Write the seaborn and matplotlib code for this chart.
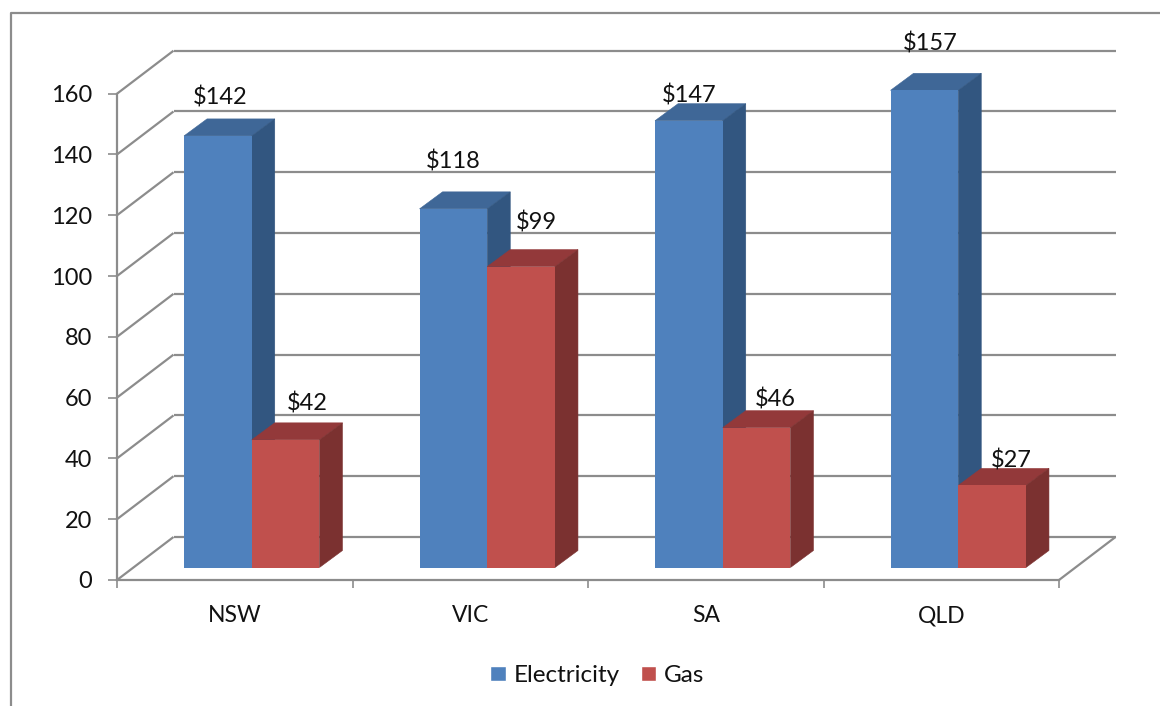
import matplotlib
matplotlib.use('Agg')
import matplotlib.pyplot as plt
import pandas as pd
import seaborn as sns
from matplotlib.lines import Line2D
from matplotlib.patches import Polygon

# Values
states = ['NSW', 'VIC', 'SA', 'QLD']
electricity = [142, 118, 147, 157]
gas = [42, 99, 46, 27]
y_ticks = [0, 20, 40, 60, 80, 100, 120, 140, 160]

# Label nudges from the bar's top centre, in pixels (hand placed in the original)
elec_label_nudge = [(2, 38), (0, 47), (0, 25), (6, 47)]
gas_label_nudge = [(22, 36), (15, 44), (19, 28), (19, 25)]

sns.set_theme(style='white')
plt.rcParams['font.family'] = ['Lato', 'DejaVu Sans']
text_color = '#111111'
line_color = '#8c8c8c'

W, H = 1160, 706
fig = plt.figure(figsize=(W / 100, H / 100), dpi=100)
ax = fig.add_axes([117 / W, 1 - 580 / H, 942 / W, 486.3 / H])

df = pd.DataFrame({
    'state': states * 2,
    'cost': electricity + gas,
    'fuel': ['Electricity'] * 4 + ['Gas'] * 4,
})
sns.barplot(data=df, x='state', y='cost', hue='fuel', order=states,
            palette={'Electricity': '#4f81bd', 'Gas': '#c0504d'},
            width=0.575, saturation=1, ax=ax)

ax.set_xlim(-0.5, 3.5)
ax.set_ylim(0, 160)
ax.set_xlabel('')
ax.set_ylabel('')

# pixel sizes of the fake 3D, converted to data units
px_x = 4 / 942
px_y = 160 / 486.3
wall_dx, wall_dy = 56.5 * px_x, 43 * px_y
bar_dx, bar_dy = 17 * px_x, 12.5 * px_y
depth_dx, depth_dy = 23 * px_x, 17 * px_y


def wall_line(xs, ys, z=1):
    ax.add_line(Line2D(xs, ys, color=line_color, lw=1.6, zorder=z, clip_on=False,
                       solid_capstyle='butt'))


# back wall and side wall
for v in y_ticks:
    wall_line([-0.5, -0.5 + wall_dx], [v, v + wall_dy])
    wall_line([-0.5 + wall_dx, 3.5 + wall_dx], [v + wall_dy, v + wall_dy])
wall_line([3.5, 3.5 + wall_dx], [0, wall_dy])

# top and side faces for each bar
shades = [('#3f6797', '#325680'), ('#93393a', '#7b3130')]
nudges = [elec_label_nudge, gas_label_nudge]
z = 3
for i in range(len(states)):
    for container, (top_col, side_col), nudge in zip(ax.containers, shades, nudges):
        bar = container[i]
        x0 = bar.get_x() + bar_dx
        x1 = x0 + bar.get_width()
        base = bar_dy
        h = bar.get_height() + bar_dy
        bar.set_x(x0)
        bar.set_y(base)
        bar.set_zorder(z + 0.5)
        bar.set_linewidth(0)
        bar.set_clip_on(False)
        ax.add_patch(Polygon([(x0, h), (x1, h), (x1 + depth_dx, h + depth_dy),
                              (x0 + depth_dx, h + depth_dy)],
                             closed=True, fc=top_col, ec=top_col, lw=0.4, zorder=z, clip_on=False))
        ax.add_patch(Polygon([(x1, base), (x1 + depth_dx, base + depth_dy),
                              (x1 + depth_dx, h + depth_dy), (x1, h)],
                             closed=True, fc=side_col, ec=side_col, lw=0.4, zorder=z, clip_on=False))
        ax.annotate(f'${bar.get_height():.0f}', ((x0 + x1) / 2, h),
                    xytext=(nudge[i][0] * 0.72, nudge[i][1] * 0.72),
                    textcoords='offset points', ha='center', va='center',
                    fontsize=17, color=text_color, zorder=20, annotation_clip=False)
        z += 1

sns.despine(ax=ax)
for side in ['left', 'bottom']:
    ax.spines[side].set_color(line_color)
    ax.spines[side].set_linewidth(1.6)
    ax.spines[side].set_zorder(2)

ax.set_yticks(y_ticks)
ax.tick_params(axis='y', left=True, length=6.3, width=1.2, color=line_color, pad=11.5,
               labelsize=17, labelcolor=text_color)
ax.set_xticks([-0.5, 0.5, 1.5, 2.5, 3.5], minor=True)
ax.tick_params(axis='x', which='minor', bottom=True, length=6, width=1.2, color=line_color)
ax.tick_params(axis='x', which='major', bottom=False, length=0, pad=18,
               labelsize=16.5, labelcolor=text_color)

sns.move_legend(ax, 'center', bbox_to_anchor=(597.5 / W, 1 - 675.5 / H),
                bbox_transform=fig.transFigure, ncol=2, frameon=False, title=None,
                fontsize=17.5, handlelength=0.62, handleheight=0.62, handletextpad=0.32,
                columnspacing=0.9, labelcolor=text_color)

# outer frame of the picture (cropped at right and bottom)
fig.add_artist(Line2D([10.5 / W, 10.5 / W, 1], [0, 1 - 12.5 / H, 1 - 12.5 / H],
                      color=line_color, lw=1.6))

fig.savefig('out.png', dpi=100, facecolor='white')
